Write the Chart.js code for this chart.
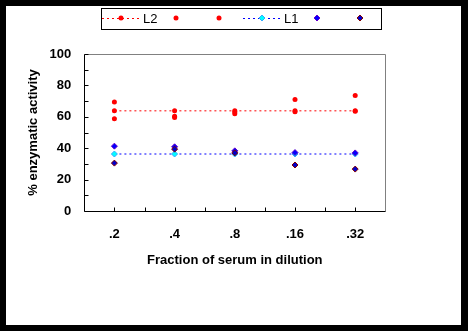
<!DOCTYPE html>
<html>
<head>
<meta charset="utf-8">
<script src="https://cdn.jsdelivr.net/npm/chart.js@4/dist/chart.umd.min.js"></script>
<style>
  html, body { margin: 0; padding: 0; background: #000; }
  canvas { display: block; }
</style>
</head>
<body>
<canvas id="c" width="468" height="331"></canvas>
<script>
// Serum dilutions on the x axis
const categories = ['.2', '.4', '.8', '.16', '.32'];
// Lot L2: mean line and two individual runs
const l2Mean = [63.8, 63.8, 63.8, 63.8, 63.8];
const l2RunA = [69.5, 60.4, 63.0, 71.0, 73.5];
const l2RunB = [58.7, 59.5, 62.0, 63.2, 63.5];
// Lot L1: mean line and two individual runs
const l1Mean = [36.3, 36.3, 36.3, 36.3, 36.3];
const l1RunA = [41.3, 40.9, 38.3, 37.2, 37.0];
const l1RunB = [30.5, 39.4, 37.0, 29.3, 26.7];
// Axis range
const yMin = 0, yMax = 100, yStep = 20, yMinorStep = 10;

const FONT = "'Liberation Sans', Arial, sans-serif";

const datasets = [
  { label: 'L2', data: l2Mean, showLine: true, borderColor: '#ff0000', borderWidth: 1, borderDash: [2, 3],
    pointStyle: 'circle', pointRadius: 2.5, pointBackgroundColor: '#ff0000', pointBorderColor: '#ff0000', pointBorderWidth: 0, order: 6 },
  { label: '', data: l2RunA, showLine: false,
    pointStyle: 'circle', pointRadius: 2.5, pointBackgroundColor: '#ff0000', pointBorderColor: '#ff0000', pointBorderWidth: 0, order: 5 },
  { label: '', data: l2RunB, showLine: false,
    pointStyle: 'circle', pointRadius: 2.5, pointBackgroundColor: '#ff0000', pointBorderColor: '#ff0000', pointBorderWidth: 0, order: 4 },
  { label: 'L1', data: l1Mean, showLine: true, borderColor: '#0000ff', borderWidth: 1, borderDash: [2, 3],
    pointStyle: 'rectRot', pointRadius: 3, pointBackgroundColor: '#00ffff', pointBorderColor: '#33aaff', pointBorderWidth: 1, order: 3 },
  { label: '', data: l1RunA, showLine: false,
    pointStyle: 'rectRot', pointRadius: 3, pointBackgroundColor: '#0000ff', pointBorderColor: '#6600cc', pointBorderWidth: 1, order: 2 },
  { label: '', data: l1RunB, showLine: false,
    pointStyle: 'rectRot', pointRadius: 3, pointBackgroundColor: '#0000cc', pointBorderColor: '#800000', pointBorderWidth: 1, order: 1 }
];

// Black surround with the white page
const pagePlugin = {
  id: 'page',
  beforeDraw(chart) {
    const ctx = chart.ctx;
    ctx.save();
    ctx.fillStyle = '#000';
    ctx.fillRect(0, 0, chart.width, chart.height);
    ctx.fillStyle = '#fff';
    ctx.fillRect(6, 6, 455, 319);
    ctx.restore();
  }
};

// Plot frame with inward tick marks
const framePlugin = {
  id: 'frame',
  beforeDatasetsDraw(chart) {
    const { ctx, chartArea: a, scales } = chart;
    const L = Math.round(a.left) + 0.5, R = Math.round(a.right) + 0.5;
    const T = Math.round(a.top) + 0.5, B = Math.round(a.bottom) + 0.5;
    ctx.save();
    ctx.lineWidth = 1;
    ctx.strokeStyle = '#808080';
    ctx.beginPath();
    ctx.moveTo(L, T); ctx.lineTo(R, T); ctx.lineTo(R, B);
    ctx.stroke();
    ctx.strokeStyle = '#000';
    ctx.beginPath();
    ctx.moveTo(L, T); ctx.lineTo(L, B); ctx.lineTo(R, B);
    // y ticks
    for (let v = yMin; v <= yMax; v += yMinorStep) {
      const y = Math.round(scales.y.getPixelForValue(v)) + 0.5;
      ctx.moveTo(L, y); ctx.lineTo(L + 4, y);
    }
    // x ticks at category centres and boundaries
    for (let k = 1; k < categories.length * 2; k++) {
      const x = Math.round(scales.x.getPixelForValue(k * 0.5 - 0.5)) + 0.5;
      ctx.moveTo(x, B); ctx.lineTo(x, B - 4);
    }
    ctx.stroke();
    ctx.restore();
  }
};

// Boxed legend across the top
const legendPlugin = {
  id: 'boxLegend',
  afterDraw(chart) {
    const ctx = chart.ctx;
    const cy = 18;
    const slots = [121, 176, 219, 262, 317, 360];
    ctx.save();
    ctx.strokeStyle = '#000';
    ctx.lineWidth = 1;
    ctx.strokeRect(101.5, 8.5, 280, 21);
    chart.data.datasets.forEach((ds, i) => {
      const cx = slots[i];
      if (ds.showLine) {
        ctx.save();
        ctx.strokeStyle = ds.borderColor;
        ctx.lineWidth = ds.borderWidth;
        ctx.setLineDash(ds.borderDash);
        ctx.beginPath();
        ctx.moveTo(cx - 19, cy + 0.5);
        ctx.lineTo(cx + 19, cy + 0.5);
        ctx.stroke();
        ctx.restore();
      }
      ctx.fillStyle = ds.pointBackgroundColor;
      ctx.strokeStyle = ds.pointBorderColor;
      Chart.helpers.drawPoint(ctx, {
        pointStyle: ds.pointStyle, radius: ds.pointRadius,
        borderWidth: ds.pointBorderWidth, rotation: 0
      }, cx, cy);
      if (ds.label) {
        ctx.fillStyle = '#000';
        ctx.font = '13px ' + FONT;
        ctx.textBaseline = 'middle';
        ctx.textAlign = 'left';
        ctx.fillText(ds.label, cx + 22, cy + 1);
      }
    });
    ctx.restore();
  }
};

new Chart(document.getElementById('c'), {
  type: 'line',
  data: { labels: categories, datasets },
  plugins: [pagePlugin, framePlugin, legendPlugin],
  options: {
    responsive: false,
    animation: false,
    devicePixelRatio: 1,
    layout: { padding: { left: 0, top: 54, right: 82.7, bottom: 0 } },
    plugins: { legend: { display: false }, tooltip: { enabled: false } },
    scales: {
      x: {
        type: 'category',
        offset: true,
        grid: { display: false, drawTicks: false },
        border: { display: false },
        ticks: { color: '#000', font: { family: FONT, size: 13, weight: 'bold' }, padding: 16, maxRotation: 0 },
        title: { display: true, text: 'Fraction of serum in dilution', color: '#000',
                 font: { family: FONT, size: 13, weight: 'bold' }, padding: { top: 0, bottom: 63.2 } },
        afterFit(scale) { scale.height = 120; }
      },
      y: {
        min: yMin, max: yMax,
        grid: { display: false, drawTicks: false },
        border: { display: false },
        ticks: { stepSize: yStep, color: '#000', font: { family: FONT, size: 13, weight: 'bold' }, padding: 13 },
        title: { display: true, text: '% enzymatic activity', color: '#000',
                 font: { family: FONT, size: 13, weight: 'bold' }, padding: { top: 25.2, bottom: 0 } },
        afterFit(scale) { scale.width = 84.3; }
      }
    }
  }
});
</script>
</body>
</html>
